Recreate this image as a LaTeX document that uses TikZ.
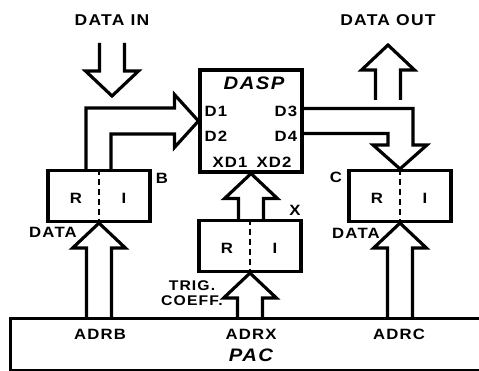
\documentclass[tikz,border=0pt]{standalone}
\usepackage{fontspec}
\setmainfont{Liberation Sans}[FakeStretch=1.12,LetterSpace=8]
\usetikzlibrary{calc}

% hollow block arrow: tail, tip, 1 = up / -1 = down
\newcommand{\blockarr}[3]{%
  \path ($(#2)+(-12.5,0)$) coordinate (sl) ($(#2)+(12.5,0)$) coordinate (sr);
  \draw[blk] (sl |- #1) -- ($(sl)+(0,#3*25)$) -- ($(#2)+(-26.5,#3*25)$) -- (#2)
    -- ($(#2)+(26.5,#3*25)$) -- ($(sr)+(0,#3*25)$) -- (sr |- #1);}

\begin{document}
\begin{tikzpicture}[x=0.02cm,y=-0.02cm,line width=1.8pt,
font=\bfseries\fontsize{8.5}{10}\selectfont,
reg/.style={draw,minimum width=2.04cm,minimum height=1.02cm,inner sep=0pt},
blk/.style={line join=miter},
ttl/.style={font=\bfseries\fontsize{8.9}{10}\selectfont},
big/.style={font=\bfseries\itshape\fontsize{10.3}{12}\selectfont},
sep/.style={line width=1.4pt,dash pattern=on 3.5pt off 2.2pt}]
\useasboundingbox (0,0) rectangle (479,371);
% processor
\node[draw,minimum width=2.04cm,minimum height=2.04cm,inner sep=0pt](dasp) at (251,121){};
\node[big](dasptxt) at (254,83){DASP};
\node(d1) at (216,111){D1};
\node(d2) at (216,136){D2};
\node(d3) at (286,111){D3};
\node(d4) at (286,136){D4};
\node(xd1) at (230,162){XD1};
\node(xd2) at (274,162){XD2};
% registers
\node[reg](regb) at (99,196){};
\node[reg](regx) at (250,246){};
\node[reg](regc) at (400,196){};
\foreach \r in {regb,regx,regc}{
  \draw[sep] (\r.north) -- (\r.south);
  \node(\r-r) at ($(\r)+(-23,2)$){R};
  \node(\r-i) at ($(\r)+(25,2)$){I};
}
\node(lblb) at (162,178){B};
\node(lblx) at (295,210){X};
\node(lblc) at (336,177){C};
% controller
\node[minimum width=9.56cm,minimum height=0.98cm,inner sep=0pt](pac) at (251,344.5){};
\draw (pac.north east) -- (pac.north west) -- (pac.south west) -- (pac.south east);
\node(adrb) at (100,334){ADRB};
\node(adrx) at (251,334){ADRX};
\node(adrc) at (399,334){ADRC};
\node[big](pactxt) at (251,355){PAC};
% data in / out
\node[ttl](datain) at (112,20){DATA IN};
\node[ttl](dataout) at (388,20){DATA OUT};
\coordinate (din) at (112,43);
\coordinate (dintip) at (112,96);
\coordinate (dout) at (388,100);
\coordinate (douttip) at (388,45);
\blockarr{din}{dintip}{-1}
\blockarr{dout}{douttip}{1}
% buses
\blockarr{pac.north}{regb.south}{1}
\blockarr{pac.north}{regx.south}{1}
\blockarr{pac.north}{regc.south}{1}
\blockarr{regx.north}{dasp.south}{1}
\draw[blk] ($(regb.north)+(-13,0)$) |- ($(dasp.west)+(-24,-13)$) -- ($(dasp.west)+(-24,-26.5)$)
  -- (dasp.west) -- ($(dasp.west)+(-24,26.5)$) -- ($(dasp.west)+(-24,13)$) -| ($(regb.north)+(12,0)$);
\draw[blk] ($(dasp.east)+(0,-12.5)$) -| ($(regc.north)+(13,-24)$) -- ($(regc.north)+(27,-24)$)
  -- (regc.north) -- ($(regc.north)+(-27,-24)$) -- ($(regc.north)+(-12,-24)$) |- ($(dasp.east)+(0,12.5)$);
\node(datab) at (53,232){DATA};
\node(datac) at (356,233){DATA};
\node[align=center,font=\bfseries\fontsize{8}{8.2}\selectfont](trig) at (192,293){TRIG.\\COEFF.};
\end{tikzpicture}
\end{document}
